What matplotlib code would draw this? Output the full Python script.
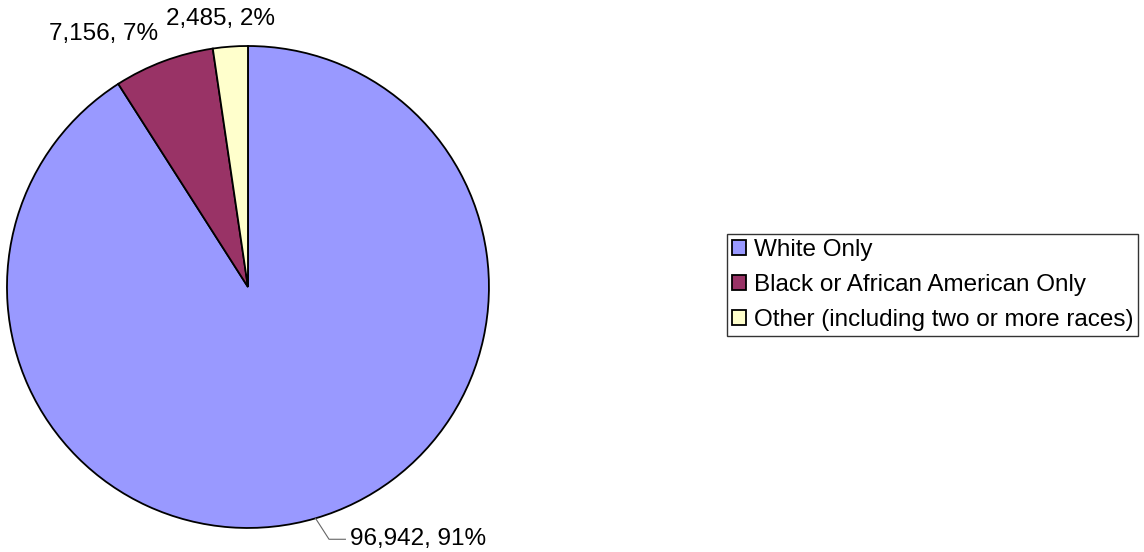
import matplotlib.pyplot as plt
import numpy as np

plt.rcParams['font.family'] = ['Liberation Sans', 'DejaVu Sans']

categories = ['White Only', 'Black or African American Only',
              'Other (including two or more races)']
counts = [96942, 7156, 2485]
colors = ['#9999FF', '#993366', '#FFFFCC']


def main():
    fig = plt.figure(figsize=(11.44, 5.52), dpi=100)
    ax = fig.add_axes([0.0061, 0.0435, 0.4213, 0.8732])

    wedges, _ = ax.pie(counts, colors=colors, startangle=90, counterclock=False,
                       radius=1.0, wedgeprops={'edgecolor': 'black', 'linewidth': 1.3})
    ax.set_xlim(-1, 1)
    ax.set_ylim(-1, 1)
    ax.set_aspect('equal')

    total = sum(counts)
    labels = ['{:,}, {:.0f}%'.format(c, 100 * c / total) for c in counts]

    # label for the big slice, with a leader line from the slice's mid angle
    w = wedges[0]
    mid = np.deg2rad((w.theta1 + w.theta2) / 2)
    p0 = (np.cos(mid), np.sin(mid))
    p1 = (p0[0] + 0.056, p0[1] - 0.087)
    p2 = (p1[0] + 0.068, p1[1])
    ax.plot([p0[0], p1[0], p2[0]], [p0[1], p1[1], p2[1]], color='#666666',
            lw=0.8, clip_on=False)
    ax.text(p2[0] + 0.02, p2[1], labels[0], ha='left', va='center',
            fontsize=17.5, clip_on=False)

    # small slices: labels sit above the top of the pie
    offsets = [None, (-0.60, 1.05), (-0.116, 1.112)]
    for i in (1, 2):
        ax.text(offsets[i][0], offsets[i][1], labels[i], ha='center',
                va='center', fontsize=17.5, clip_on=False)

    leg = fig.legend(wedges, categories, loc='center left',
                     bbox_to_anchor=(0.6355, 0.4837), bbox_transform=fig.transFigure,
                     fontsize=17.5, frameon=True, fancybox=False, borderaxespad=0,
                     borderpad=0.2, handlelength=0.6, handleheight=0.6,
                     handletextpad=0.3, labelspacing=0.54)
    leg.get_frame().set_edgecolor('black')
    leg.get_frame().set_linewidth(1.0)
    for h in leg.legend_handles:
        h.set_linewidth(1.3)

    fig.savefig('out.png', dpi=100)
    plt.close()


main()
